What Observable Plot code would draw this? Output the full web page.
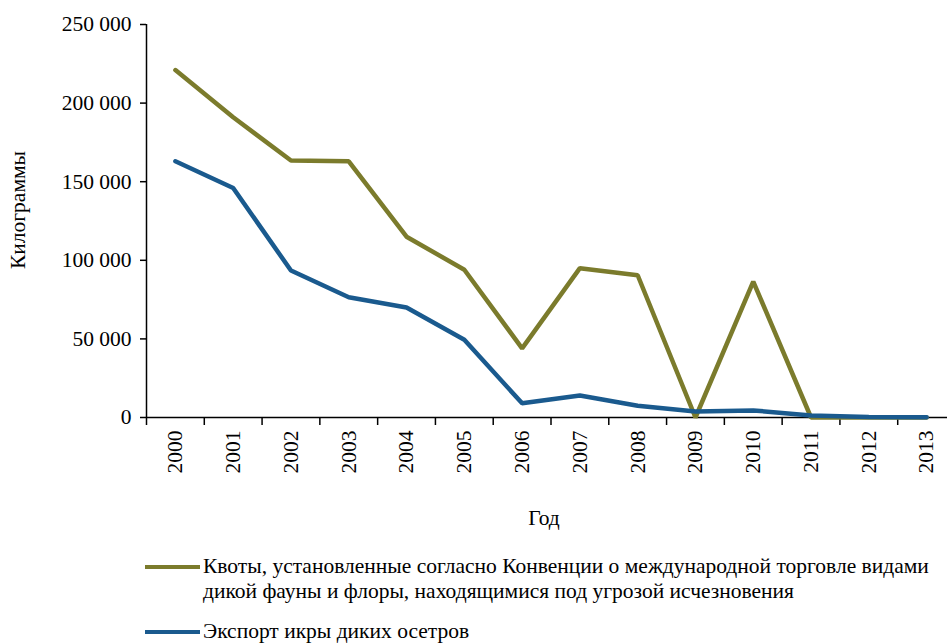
<!DOCTYPE html>
<html>
<head>
<meta charset="utf-8">
<script src="https://cdn.jsdelivr.net/npm/d3@7"></script>
<script src="https://cdn.jsdelivr.net/npm/@observablehq/plot@0.6"></script>
<style>
  html, body { margin: 0; padding: 0; background: white; overflow: hidden; }
  body { position: relative; width: 947px; height: 643px; font-family: "Liberation Serif", serif; }
  .sw { position: absolute; left: 145px; width: 55px; height: 4px; }
  .lt { position: absolute; left: 203px; font-size: 21.5px; line-height: 25px; color: #000; white-space: nowrap; }
</style>
</head>
<body>
<div id="chart"></div>
<script>
const years = [2000, 2001, 2002, 2003, 2004, 2005, 2006, 2007, 2008, 2009, 2010, 2011, 2012, 2013];
const quotas = [221000, 191000, 163500, 163000, 115000, 94000, 44000, 95000, 90500, 0, 86500, 0, 0, 0];
const exportsWild = [163000, 146000, 93500, 76500, 70000, 49500, 9000, 14000, 7500, 3800, 4500, 1300, 300, 100];
const seriesNames = [
  "Квоты, установленные согласно Конвенции о международной торговле видами дикой фауны и флоры, находящимися под угрозой исчезновения",
  "Экспорт икры диких осетров"
];
const seriesColors = ["#7b7b2c", "#1a5a8e"];
const yTicks = [0, 50000, 100000, 150000, 200000, 250000];
const yLabel = "Килограммы";
const xLabel = "Год";

const data = [
  ...years.map((y, i) => ({year: y, value: quotas[i], series: seriesNames[0]})),
  ...years.map((y, i) => ({year: y, value: exportsWild[i], series: seriesNames[1]}))
];
const boundaries = [...years.map(y => y - 0.5), years[years.length - 1] + 0.5];
const fmt = d => d3.format(",")(d).replace(/,/g, " ");

const chart = Plot.plot({
  width: 947,
  height: 540,
  marginLeft: 146,
  marginRight: -8,
  marginTop: 24,
  marginBottom: 123,
  style: {fontFamily: "'Liberation Serif', serif", fontSize: "21.5px", color: "#000", background: "white", overflow: "hidden"},
  x: {domain: [years[0] - 0.5, years[years.length - 1] + 0.5]},
  y: {domain: [0, 250000]},
  color: {domain: seriesNames, range: seriesColors},
  marks: [
    Plot.axisY({ticks: yTicks, tickSize: 6, tickPadding: 9, tickFormat: fmt, strokeWidth: 1.5, label: null}),
    Plot.axisX({ticks: boundaries, tickSize: 8, tickFormat: () => "", label: null, strokeWidth: 1.5}),
    Plot.axisX({ticks: years, tickSize: 0, tickPadding: 13, tickRotate: -90, tickFormat: d => String(d), label: null}),
    Plot.text([yLabel], {frameAnchor: "left", dx: -128, dy: -11, rotate: -90, textAnchor: "middle", lineAnchor: "middle", text: d => d}),
    Plot.text([xLabel], {frameAnchor: "bottom", dx: -7, dy: 101, textAnchor: "middle", lineAnchor: "middle", text: d => d}),
    Plot.ruleX([years[0] - 0.5], {y1: 0, y2: 250000, stroke: "#000", strokeWidth: 1.5}),
    Plot.ruleY([0], {stroke: "#000", strokeWidth: 1.5}),
    Plot.line(data, {x: "year", y: "value", z: "series", stroke: "series", strokeWidth: 4.5, strokeLinejoin: "miter", strokeLinecap: "round"})
  ]
});
document.getElementById("chart").appendChild(chart);

const legendTops = [{sw: 565, text: 554}, {sw: 630, text: 619}];
const legendLines = [
  ["Квоты, установленные согласно Конвенции о международной торговле видами", "дикой фауны и флоры, находящимися под угрозой исчезновения"],
  ["Экспорт икры диких осетров"]
];
seriesNames.forEach((name, i) => {
  const sw = document.createElement("div");
  sw.className = "sw";
  sw.style.top = legendTops[i].sw + "px";
  sw.style.background = seriesColors[i];
  document.body.appendChild(sw);
  const t = document.createElement("div");
  t.className = "lt";
  t.style.top = legendTops[i].text + "px";
  t.innerHTML = legendLines[i].join("<br>");
  document.body.appendChild(t);
});
</script>
</body>
</html>
